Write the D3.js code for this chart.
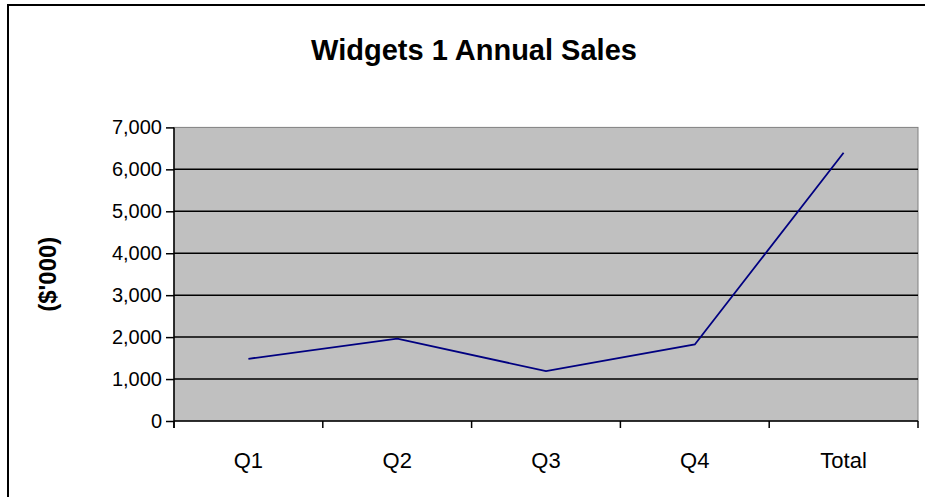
<!DOCTYPE html>
<html><head><meta charset="utf-8">
<script src="https://cdn.jsdelivr.net/npm/d3@7"></script>
<style>html,body{margin:0;padding:0;background:#fff}svg{display:block}text{font-family:Arial,"Liberation Sans",sans-serif}</style>
</head><body>
<svg id="c" width="925" height="497"></svg>
<script>
const categories = ["Q1","Q2","Q3","Q4","Total"];
const sales = [1483, 1962, 1190, 1824, 6395];
const yTicks = [0,1000,2000,3000,4000,5000,6000,7000];
const title = "Widgets 1 Annual Sales";
const yLabel = "($'000)";

const svg = d3.select("#c");
const L = 174, R = 918, T = 127.4, B = 421;

svg.append("rect").attr("x",8).attr("y",5).attr("width",940).attr("height",520)
  .attr("fill","#fff").attr("stroke","#000").attr("stroke-width",2);

const x = d3.scaleBand().domain(categories).range([L,R]).padding(0);
const y = d3.scaleLinear().domain([0,7000]).range([B,T]);

svg.append("rect").attr("x",L).attr("y",T).attr("width",R-L).attr("height",B-T)
  .attr("fill","#c0c0c0").attr("stroke","#808080").attr("stroke-width",1);

svg.append("g").selectAll("line").data(yTicks.filter(d=>d>0 && d<7000)).join("line")
  .attr("x1",L).attr("x2",R).attr("y1",d=>y(d)).attr("y2",d=>y(d))
  .attr("stroke","#000").attr("stroke-width",1.5);

const yAxis = d3.axisLeft(y).tickValues(yTicks).tickSize(8).tickPadding(4).tickFormat(d3.format(","));
const gy = svg.append("g").attr("transform",`translate(${L},0)`).call(yAxis);
gy.select(".domain").attr("stroke","#000").attr("stroke-width",1.5).attr("d",`M0,${T}V${B+7}`);
gy.selectAll(".tick line").attr("stroke","#000").attr("stroke-width",1.5);
gy.selectAll(".tick text").attr("font-size",20).attr("fill","#000").attr("font-family","Arial, 'Liberation Sans', sans-serif");

const bounds = categories.map(c=>x(c)).concat([R]);
const gx = svg.append("g");
gx.append("line").attr("x1",L).attr("x2",R).attr("y1",B).attr("y2",B).attr("stroke","#000").attr("stroke-width",1.5);
gx.selectAll("line.t").data(bounds).join("line").attr("class","t")
  .attr("x1",d=>d).attr("x2",d=>d).attr("y1",B).attr("y2",B+7).attr("stroke","#000").attr("stroke-width",1.5);
gx.selectAll("text").data(categories).join("text")
  .attr("x",d=>x(d)+x.bandwidth()/2).attr("y",468).attr("text-anchor","middle")
  .attr("font-size",22).attr("fill","#000").text(d=>d);

const line = d3.line().x((d,i)=>x(categories[i])+x.bandwidth()/2).y(d=>y(d));
svg.append("path").datum(sales).attr("d",line).attr("fill","none").attr("stroke","#000080").attr("stroke-width",1.8);

svg.append("text").attr("x",474).attr("y",60).attr("text-anchor","middle")
  .attr("font-size",29).attr("font-weight","bold").text(title);

svg.append("text").attr("transform",`translate(56,${(T+B)/2}) rotate(-90)`).attr("text-anchor","middle")
  .attr("font-size",24).attr("font-weight","bold").text(yLabel);
</script>
</body></html>
